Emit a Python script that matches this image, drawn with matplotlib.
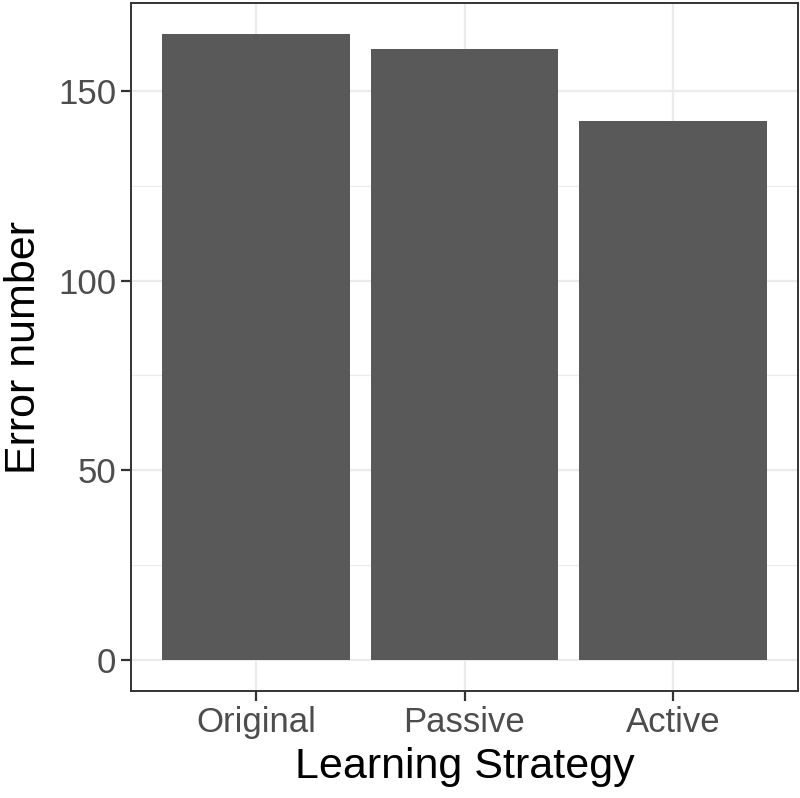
import matplotlib
matplotlib.use("Agg")
import matplotlib.pyplot as plt
import numpy as np

# data
strategies = ["Original", "Passive", "Active"]
errors = [165, 161, 142]

plt.rcParams["font.family"] = ["Liberation Sans", "DejaVu Sans"]

fig = plt.figure(figsize=(8.0, 7.98), dpi=100)
ax = fig.add_axes([131/800, 1 - 691/798, (798-131)/800, (691-3)/798])

x = np.arange(1, len(strategies) + 1)
ax.bar(x, errors, width=0.9, color="#595959", zorder=3)

ymax = max(errors)
ax.set_xlim(0.4, len(strategies) + 0.6)
ax.set_ylim(-0.05*ymax, ymax*1.05)

ax.set_yticks([0, 50, 100, 150])
ax.set_yticks([25, 75, 125], minor=True)
ax.set_xticks(x)
ax.set_xticklabels(strategies)

ax.grid(which="major", color="#EBEBEB", linewidth=1.6, zorder=0)
ax.grid(which="minor", axis="y", color="#EBEBEB", linewidth=0.8, zorder=0)
ax.tick_params(which="minor", length=0)
ax.tick_params(which="major", length=7.5, width=1.6, color="#333333",
               labelsize=25, labelcolor="#4D4D4D", pad=3)
for s in ax.spines.values():
    s.set_color("#333333")
    s.set_linewidth(1.4)
ax.set_axisbelow(True)

ax.set_xlabel("Learning Strategy", fontsize=31, color="black", labelpad=6)
ax.set_ylabel("Error number", fontsize=31, color="black", labelpad=10)

fig.savefig("out.png", dpi=100)
